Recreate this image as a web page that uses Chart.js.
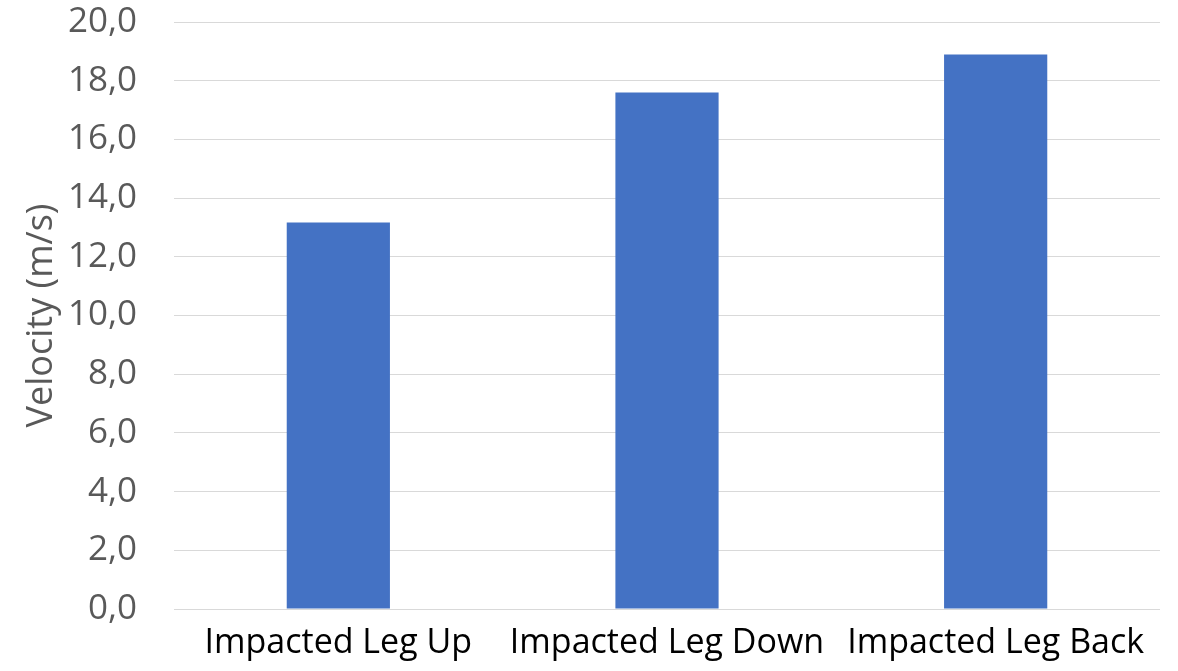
<!DOCTYPE html>
<html>
<head>
<meta charset="utf-8">
<script src="https://cdn.jsdelivr.net/npm/chart.js@4/dist/chart.umd.min.js"></script>
<style>
  html, body { margin: 0; padding: 0; background: #ffffff; }
  #wrap { width: 1178px; height: 671px; }
</style>
</head>
<body>
<div id="wrap"><canvas id="c" width="1178" height="671"></canvas></div>
<script>
// Impact velocity per leg position
const categories = ['Impacted Leg Up', 'Impacted Leg Down', 'Impacted Leg Back'];
const velocities = [13.17, 17.6, 18.89];
const yTicks = [0, 2, 4, 6, 8, 10, 12, 14, 16, 18, 20];
const yTitle = 'Velocity (m/s)';

const FONT = "'Open Sans', 'Noto Sans', sans-serif";

new Chart(document.getElementById('c'), {
  type: 'bar',
  data: {
    labels: categories,
    datasets: [{
      data: velocities,
      backgroundColor: '#4472c4',
      borderWidth: 0,
      categoryPercentage: 1,
      barPercentage: 0.314
    }]
  },
  options: {
    responsive: false,
    animation: false,
    layout: { padding: { top: 22, right: 18, bottom: 0, left: 0 } },
    plugins: { legend: { display: false }, tooltip: { enabled: false } },
    scales: {
      x: {
        grid: { display: false },
        border: { display: false },
        ticks: {
          color: '#000000',
          font: { family: FONT, size: 34 },
          padding: 6,
          maxRotation: 0,
          autoSkip: false
        },
        afterFit(scale) { scale.height = 671 - 609; scale.paddingLeft = 0; scale.paddingRight = 0; }
      },
      y: {
        min: 0,
        max: 20,
        afterBuildTicks(scale) { scale.ticks = yTicks.map(v => ({ value: v })); },
        grid: { color: '#d9d9d9', lineWidth: 1, drawTicks: false },
        border: { display: false },
        ticks: {
          color: '#595959',
          font: { family: FONT, size: 35 },
          padding: 37,
          callback: v => v.toFixed(1).replace('.', ',')
        },
        title: {
          display: true,
          text: yTitle,
          color: '#595959',
          font: { family: FONT, size: 36 },
          padding: { top: 20, bottom: 0 }
        },
        afterFit(scale) { scale.width = 174; scale.paddingTop = 0; scale.paddingBottom = 0; }
      }
    }
  }
});
</script>
</body>
</html>
